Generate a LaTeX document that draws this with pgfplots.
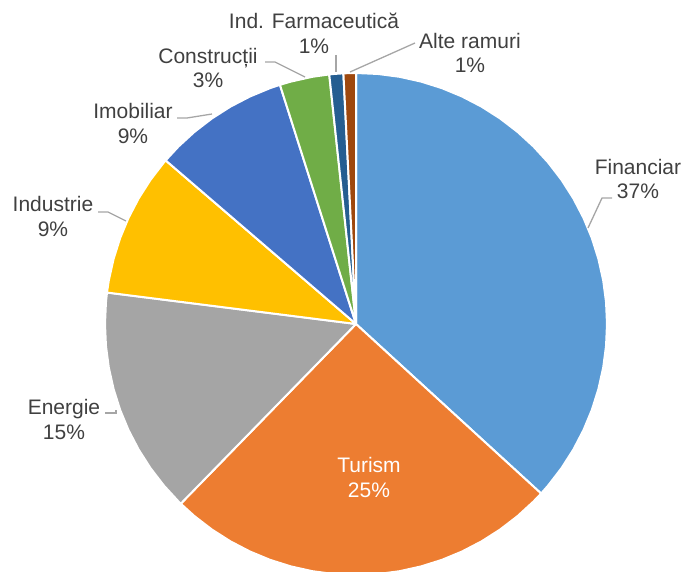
\documentclass[border=0pt]{standalone}
\usepackage{pgfplots}
\pgfplotsset{compat=1.18}
\usepackage{fontspec}
\setmainfont{Liberation Sans}
\definecolor{cFin}{HTML}{5B9BD5}
\definecolor{cTur}{HTML}{ED7D31}
\definecolor{cEne}{HTML}{A5A5A5}
\definecolor{cInd}{HTML}{FFC000}
\definecolor{cImo}{HTML}{4472C4}
\definecolor{cCon}{HTML}{70AD47}
\definecolor{cFar}{HTML}{255E91}
\definecolor{cAlt}{HTML}{9E480E}
\definecolor{lbl}{HTML}{404040}
\definecolor{lead}{HTML}{A6A6A6}
\tikzset{lab/.style={font=\fontsize{21bp}{24.5bp}\selectfont, align=center, text=lbl, inner sep=0pt}}
\begin{document}
\begin{tikzpicture}
\path[use as bounding box] (0,0) rectangle (681bp,572bp);
\begin{axis}[
  x=1bp, y=1bp,
  xmin=-356, xmax=325, ymin=-248, ymax=324,
  hide axis, anchor=south west, at={(0,0)},
  clip=true,
]
% wedges: (angle in degrees, radius)
\addplot[fill=cFin, draw=white, line width=2bp, line join=round, data cs=polar] coordinates {
(0,0) (90,251) (85,251) (80,251) (75,251) (70,251) (65,251) (60,251) (55,251) (50,251) (45,251) (40,251) (35,251) (30,251) (25,251) (20,251) (15,251) (10,251) (5,251) (0,251) (-5,251) (-10,251) (-15,251) (-20,251) (-25,251) (-30,251) (-35,251) (-40,251) (-42.48,251) (0,0)} -- cycle;
\addplot[fill=cTur, draw=white, line width=2bp, line join=round, data cs=polar] coordinates {
(0,0) (-42.48,251) (-45,251) (-50,251) (-55,251) (-60,251) (-65,251) (-70,251) (-75,251) (-80,251) (-85,251) (-90,251) (-95,251) (-100,251) (-105,251) (-110,251) (-115,251) (-120,251) (-125,251) (-130,251) (-134.28,251) (0,0)} -- cycle;
\addplot[fill=cEne, draw=white, line width=2bp, line join=round, data cs=polar] coordinates {
(0,0) (-134.28,251) (-135,251) (-140,251) (-145,251) (-150,251) (-155,251) (-160,251) (-165,251) (-170,251) (-175,251) (-180,251) (-185,251) (-187.2,251) (0,0)} -- cycle;
\addplot[fill=cInd, draw=white, line width=2bp, line join=round, data cs=polar] coordinates {
(0,0) (-187.2,251) (-190,251) (-195,251) (-200,251) (-205,251) (-210,251) (-215,251) (-220,251) (-220.68,251) (0,0)} -- cycle;
\addplot[fill=cImo, draw=white, line width=2bp, line join=round, data cs=polar] coordinates {
(0,0) (-220.68,251) (-225,251) (-230,251) (-235,251) (-240,251) (-245,251) (-250,251) (-252.36,251) (0,0)} -- cycle;
\addplot[fill=cCon, draw=white, line width=2bp, line join=round, data cs=polar] coordinates {
(0,0) (-252.36,251) (-255,251) (-260,251) (-263.88,251) (0,0)} -- cycle;
\addplot[fill=cFar, draw=white, line width=2bp, line join=round, data cs=polar] coordinates {
(0,0) (-263.88,251) (-265,251) (-267.12,251) (0,0)} -- cycle;
\addplot[fill=cAlt, draw=white, line width=2bp, line join=round, data cs=polar] coordinates {
(0,0) (-267.12,251) (-270,251) (0,0)} -- cycle;
% leader lines
\addplot[lead, line width=1.3bp, no marks] coordinates {(256,126) (246,126) (232,96)};
\addplot[lead, line width=1.3bp, no marks] coordinates {(-258,112) (-248,112) (-230,103)};
\addplot[lead, line width=1.3bp, no marks] coordinates {(-179,206) (-169,206) (-144,210)};
\addplot[lead, line width=1.3bp, no marks] coordinates {(-251,-89) (-240,-89) (-240,-86)};
\addplot[lead, line width=1.3bp, no marks] coordinates {(-91,262) (-81,262) (-51,247)};
\addplot[lead, line width=1.3bp, no marks] coordinates {(-20,269) (-20,252)};
\addplot[lead, line width=1.3bp, no marks] coordinates {(59,281) (-6,252)};
% labels
\node[lab] at (axis cs:282,145) {Financiar\\37\%};
\node[lab, text=white] at (axis cs:13,-153.5) {Turism\\25\%};
\node[lab] at (axis cs:-292,-95.5) {Energie\\15\%};
\node[lab] at (axis cs:-303,107.5) {Industrie\\9\%};
\node[lab] at (axis cs:-223,200.5) {Imobiliar\\9\%};
\node[lab] at (axis cs:-148,256) {Construcții\\3\%};
\node[lab] at (axis cs:-42,290.5) {Ind. Farmaceutică\\1\%};
\node[lab] at (axis cs:114,271) {Alte ramuri\\1\%};
\end{axis}
\end{tikzpicture}
\end{document}
